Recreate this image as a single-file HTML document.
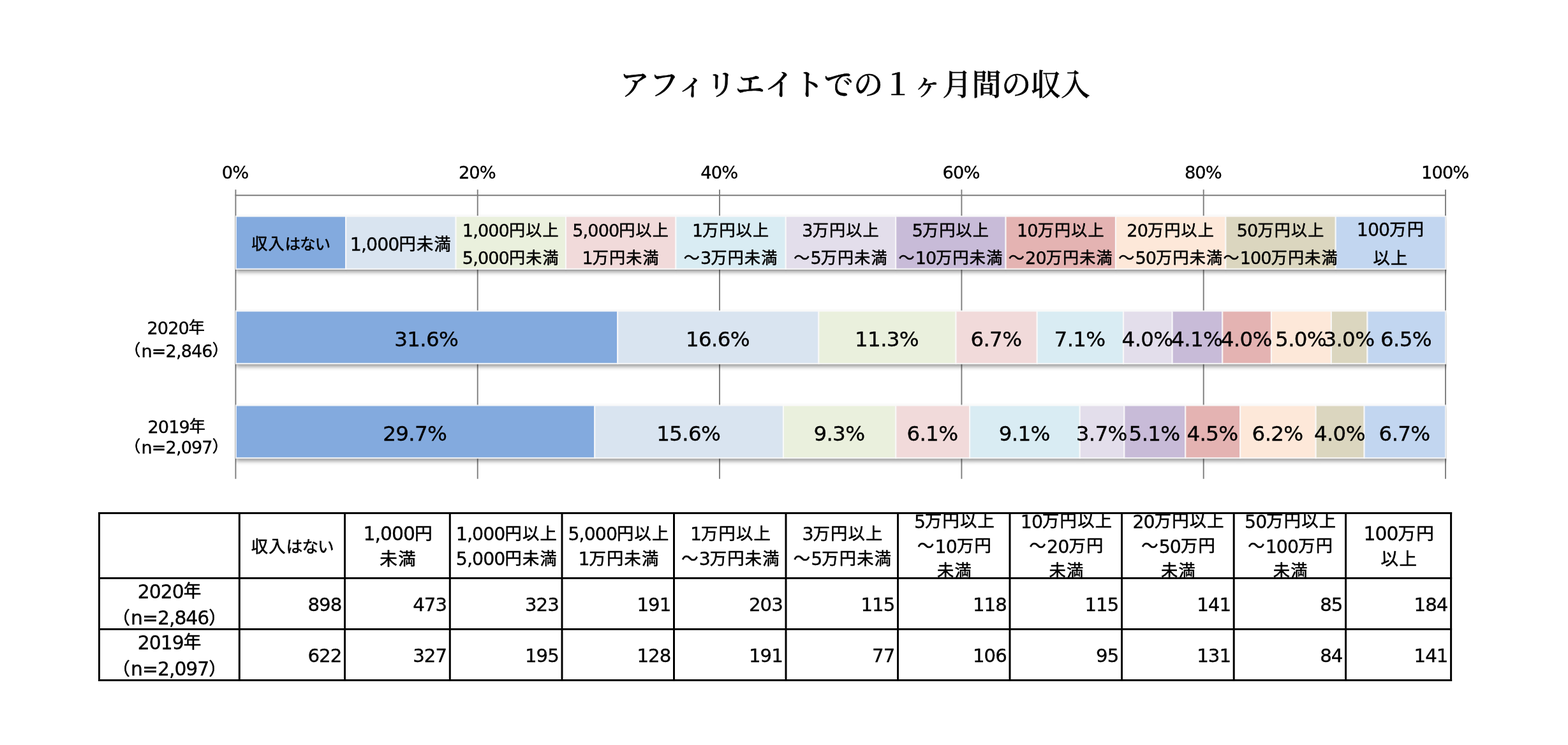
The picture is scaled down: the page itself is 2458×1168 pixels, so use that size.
<!DOCTYPE html>
<html lang="ja">
<head>
<meta charset="utf-8">
<title>アフィリエイトでの１ヶ月間の収入</title>
<style>
html,body{margin:0;padding:0;background:#fff;}
body{width:2458px;height:1168px;overflow:hidden;position:relative;}
svg{position:absolute;left:0;top:0;display:block;}
text{font-family:"DejaVu Sans","Noto Sans CJK JP",sans-serif;fill:#000;stroke:#000;stroke-width:0.35px;stroke-linejoin:round;}
.l{letter-spacing:var(--ll,-0.033em);}
.c{font-family:"Noto Sans CJK JP","DejaVu Sans",sans-serif;font-size:0.926em;letter-spacing:0.047em;stroke-width:0.6px;}
.k{font-family:"Noto Sans CJK JP","DejaVu Sans",sans-serif;font-size:0.9em;letter-spacing:-0.037em;stroke-width:0.6px;}
.t{font-family:"Noto Serif CJK JP","Noto Serif CJK SC","Liberation Serif",serif;font-weight:500;stroke-width:0.5px;}
.m{text-anchor:middle;}
.e{text-anchor:end;}
</style>
</head>
<body>
<svg width="2458" height="1168" viewBox="0 0 2458 1168">
<defs><filter id="sh" filterUnits="userSpaceOnUse" x="300" y="300" width="2000" height="460"><feGaussianBlur in="SourceAlpha" stdDeviation="3.0"/><feOffset dx="0.8" dy="3.8"/><feComponentTransfer result="s1"><feFuncA type="linear" slope="0.4"/></feComponentTransfer><feGaussianBlur in="SourceAlpha" stdDeviation="0.6"/><feOffset dx="0" dy="1.1"/><feComponentTransfer result="s2"><feFuncA type="linear" slope="0.22"/></feComponentTransfer><feMerge><feMergeNode in="s1"/><feMergeNode in="s2"/><feMergeNode in="SourceGraphic"/></feMerge></filter></defs>
<rect width="2458" height="1168" fill="#fff"/>
<text class="t m" x="1340.3" y="148.8" font-size="46.4">アフィリエイトでの１ヶ月間の収入</text>
<g stroke="#7c7c7c" stroke-width="1.9" fill="none">
<line x1="368.5" y1="306.3" x2="2266.9" y2="306.3"/>
<line x1="369.4" y1="297.2" x2="369.4" y2="750.8"/>
<line x1="748.7" y1="297.2" x2="748.7" y2="750.8"/>
<line x1="1128.0" y1="297.2" x2="1128.0" y2="750.8"/>
<line x1="1507.4" y1="297.2" x2="1507.4" y2="750.8"/>
<line x1="1886.7" y1="297.2" x2="1886.7" y2="750.8"/>
<line x1="2266.0" y1="297.2" x2="2266.0" y2="750.8"/>
</g>
<g font-size="27.3">
<text class="m" x="368.6" y="280.4"><tspan class="l">0%</tspan></text>
<text class="m" x="747.9" y="280.4"><tspan class="l">20%</tspan></text>
<text class="m" x="1127.2" y="280.4"><tspan class="l">40%</tspan></text>
<text class="m" x="1506.6" y="280.4"><tspan class="l">60%</tspan></text>
<text class="m" x="1885.9" y="280.4"><tspan class="l">80%</tspan></text>
<text class="m" x="2265.2" y="280.4"><tspan class="l">100%</tspan></text>
</g>
<clipPath id="pc"><rect x="368.9" y="300" width="1899.1" height="452"/></clipPath>
<g clip-path="url(#pc)"><g filter="url(#sh)" stroke="#fafafa" stroke-opacity="0.82" stroke-width="2.2">
<rect x="369.8" y="339.1" width="172.4" height="82.6" fill="#83AADE"/>
<rect x="542.2" y="339.1" width="172.4" height="82.6" fill="#D9E4F0"/>
<rect x="714.6" y="339.1" width="172.4" height="82.6" fill="#EAF0DD"/>
<rect x="887.0" y="339.1" width="172.4" height="82.6" fill="#F1DADA"/>
<rect x="1059.4" y="339.1" width="172.4" height="82.6" fill="#D9ECF3"/>
<rect x="1231.8" y="339.1" width="172.4" height="82.6" fill="#E3DEEB"/>
<rect x="1404.2" y="339.1" width="172.4" height="82.6" fill="#C8BBD8"/>
<rect x="1576.6" y="339.1" width="172.4" height="82.6" fill="#E4B3B2"/>
<rect x="1749.0" y="339.1" width="172.4" height="82.6" fill="#FDE8D9"/>
<rect x="1921.4" y="339.1" width="172.4" height="82.6" fill="#DBD6BF"/>
<rect x="2093.8" y="339.1" width="172.4" height="82.6" fill="#C2D6F0"/>
</g></g>
<g font-size="27.1">
<text class="m" x="455.7" y="392.0"><tspan class="c" dy="-1.4">収入</tspan><tspan class="k">はない</tspan></text>
<text class="m" x="628.4" y="393.2" font-size="28.4"><tspan class="l">1,000</tspan><tspan class="c" dy="-1.4">円未満</tspan></text>
<text class="m" x="800.8" y="371.0"><tspan class="l">1,000</tspan><tspan class="c" dy="-1.4">円以上</tspan></text>
<text class="m" x="800.8" y="414.0"><tspan class="l">5,000</tspan><tspan class="c" dy="-1.4">円未満</tspan></text>
<text class="m" x="973.2" y="371.0"><tspan class="l">5,000</tspan><tspan class="c" dy="-1.4">円以上</tspan></text>
<text class="m" x="973.2" y="414.0"><tspan class="l">1</tspan><tspan class="c" dy="-1.4">万円未満</tspan></text>
<text class="m" x="1145.6" y="371.0"><tspan class="l">1</tspan><tspan class="c" dy="-1.4">万円以上</tspan></text>
<text class="m" x="1145.6" y="414.0"><tspan class="c" dy="-1.4">～</tspan><tspan class="l" dy="1.4">3</tspan><tspan class="c" dy="-1.4">万円未満</tspan></text>
<text class="m" x="1318.0" y="371.0"><tspan class="l">3</tspan><tspan class="c" dy="-1.4">万円以上</tspan></text>
<text class="m" x="1318.0" y="414.0"><tspan class="c" dy="-1.4">～</tspan><tspan class="l" dy="1.4">5</tspan><tspan class="c" dy="-1.4">万円未満</tspan></text>
<text class="m" x="1490.4" y="371.0"><tspan class="l">5</tspan><tspan class="c" dy="-1.4">万円以上</tspan></text>
<text class="m" x="1490.4" y="414.0"><tspan class="c" dy="-1.4">～</tspan><tspan class="l" dy="1.4">10</tspan><tspan class="c" dy="-1.4">万円未満</tspan></text>
<text class="m" x="1662.8" y="371.0"><tspan class="l">10</tspan><tspan class="c" dy="-1.4">万円以上</tspan></text>
<text class="m" x="1662.8" y="414.0"><tspan class="c" dy="-1.4">～</tspan><tspan class="l" dy="1.4">20</tspan><tspan class="c" dy="-1.4">万円未満</tspan></text>
<text class="m" x="1835.2" y="371.0"><tspan class="l">20</tspan><tspan class="c" dy="-1.4">万円以上</tspan></text>
<text class="m" x="1835.2" y="414.0"><tspan class="c" dy="-1.4">～</tspan><tspan class="l" dy="1.4">50</tspan><tspan class="c" dy="-1.4">万円未満</tspan></text>
<text class="m" x="2007.6" y="371.0"><tspan class="l">50</tspan><tspan class="c" dy="-1.4">万円以上</tspan></text>
<text class="m" x="2007.6" y="414.0"><tspan class="c" dy="-1.4">～</tspan><tspan class="l" dy="1.4">100</tspan><tspan class="c" dy="-1.4">万円未満</tspan></text>
<text class="m" x="2180.0" y="370.0" font-size="28.4"><tspan class="l">100</tspan><tspan class="c" dy="-1.4">万円</tspan></text>
<text class="m" x="2180.0" y="415.6" font-size="28.4"><tspan class="c" dy="-1.4">以上</tspan></text>
</g>
<g clip-path="url(#pc)"><g filter="url(#sh)" stroke="#fafafa" stroke-opacity="0.82" stroke-width="2.2">
<rect x="369.8" y="487.6" width="598.4" height="82.4" fill="#83AADE"/>
<rect x="968.2" y="487.6" width="315.2" height="82.4" fill="#D9E4F0"/>
<rect x="1283.3" y="487.6" width="215.2" height="82.4" fill="#EAF0DD"/>
<rect x="1498.5" y="487.6" width="127.3" height="82.4" fill="#F1DADA"/>
<rect x="1625.8" y="487.6" width="135.3" height="82.4" fill="#D9ECF3"/>
<rect x="1761.1" y="487.6" width="76.6" height="82.4" fill="#E3DEEB"/>
<rect x="1837.7" y="487.6" width="78.6" height="82.4" fill="#C8BBD8"/>
<rect x="1916.3" y="487.6" width="76.6" height="82.4" fill="#E4B3B2"/>
<rect x="1993.0" y="487.6" width="94.0" height="82.4" fill="#FDE8D9"/>
<rect x="2086.9" y="487.6" width="56.6" height="82.4" fill="#DBD6BF"/>
<rect x="2143.5" y="487.6" width="122.6" height="82.4" fill="#C2D6F0"/>
</g></g>
<g font-size="32.5" style="--ll:-0.02em">
<text class="m" x="668.2" y="542.5"><tspan class="l">31.6%</tspan></text>
<text class="m" x="1124.9" y="542.5"><tspan class="l">16.6%</tspan></text>
<text class="m" x="1390.1" y="542.5"><tspan class="l">11.3%</tspan></text>
<text class="m" x="1561.4" y="542.5"><tspan class="l">6.7%</tspan></text>
<text class="m" x="1692.6" y="542.5"><tspan class="l">7.1%</tspan></text>
<text class="m" x="1798.6" y="542.5"><tspan class="l">4.0%</tspan></text>
<text class="m" x="1876.2" y="542.5"><tspan class="l">4.1%</tspan></text>
<text class="m" x="1953.8" y="542.5"><tspan class="l">4.0%</tspan></text>
<text class="m" x="2039.1" y="542.5"><tspan class="l">5.0%</tspan></text>
<text class="m" x="2114.4" y="542.5"><tspan class="l">3.0%</tspan></text>
<text class="m" x="2204.0" y="542.5"><tspan class="l">6.5%</tspan></text>
</g>
<g clip-path="url(#pc)"><g filter="url(#sh)" stroke="#fafafa" stroke-opacity="0.82" stroke-width="2.2">
<rect x="369.8" y="635.6" width="562.5" height="82.4" fill="#83AADE"/>
<rect x="932.3" y="635.6" width="295.7" height="82.4" fill="#D9E4F0"/>
<rect x="1228.0" y="635.6" width="176.3" height="82.4" fill="#EAF0DD"/>
<rect x="1404.3" y="635.6" width="115.8" height="82.4" fill="#F1DADA"/>
<rect x="1520.1" y="635.6" width="172.7" height="82.4" fill="#D9ECF3"/>
<rect x="1692.8" y="635.6" width="69.6" height="82.4" fill="#E3DEEB"/>
<rect x="1762.4" y="635.6" width="95.9" height="82.4" fill="#C8BBD8"/>
<rect x="1858.3" y="635.6" width="85.9" height="82.4" fill="#E4B3B2"/>
<rect x="1944.2" y="635.6" width="118.5" height="82.4" fill="#FDE8D9"/>
<rect x="2062.7" y="635.6" width="76.0" height="82.4" fill="#DBD6BF"/>
<rect x="2138.6" y="635.6" width="127.5" height="82.4" fill="#C2D6F0"/>
</g></g>
<g font-size="32.5" style="--ll:-0.02em">
<text class="m" x="650.2" y="690.5"><tspan class="l">29.7%</tspan></text>
<text class="m" x="1079.3" y="690.5"><tspan class="l">15.6%</tspan></text>
<text class="m" x="1315.4" y="690.5"><tspan class="l">9.3%</tspan></text>
<text class="m" x="1461.4" y="690.5"><tspan class="l">6.1%</tspan></text>
<text class="m" x="1605.7" y="690.5"><tspan class="l">9.1%</tspan></text>
<text class="m" x="1726.8" y="690.5"><tspan class="l">3.7%</tspan></text>
<text class="m" x="1809.6" y="690.5"><tspan class="l">5.1%</tspan></text>
<text class="m" x="1900.5" y="690.5"><tspan class="l">4.5%</tspan></text>
<text class="m" x="2002.6" y="690.5"><tspan class="l">6.2%</tspan></text>
<text class="m" x="2099.9" y="690.5"><tspan class="l">4.0%</tspan></text>
<text class="m" x="2201.6" y="690.5"><tspan class="l">6.7%</tspan></text>
</g>
<g font-size="27.1">
<text class="m" x="276.3" y="523.8"><tspan class="l">2020</tspan><tspan class="c" dy="-1.4">年</tspan></text>
<text class="m" x="277.1" y="559.8"><tspan class="c" dy="-1.4">（</tspan><tspan class="l" dy="1.4">n=2,846</tspan><tspan class="c" dy="-1.4">）</tspan></text>
<text class="m" x="277.3" y="678.8"><tspan class="l">2019</tspan><tspan class="c" dy="-1.4">年</tspan></text>
<text class="m" x="277.1" y="710.6"><tspan class="c" dy="-1.4">（</tspan><tspan class="l" dy="1.4">n=2,097</tspan><tspan class="c" dy="-1.4">）</tspan></text>
</g>
<clipPath id="hc"><rect x="155.5" y="804.4" width="2119.1" height="102.10000000000002"/></clipPath>
<g clip-path="url(#hc)" font-size="28.4">
<text class="m" x="458.2" y="867.7"><tspan class="c" dy="-1.4">収入</tspan><tspan class="k">はない</tspan></text>
<text class="m" x="624.2" y="847.0" font-size="29.8"><tspan class="l">1,000</tspan><tspan class="c" dy="-1.4">円</tspan></text>
<text class="m" x="624.2" y="887.2" font-size="29.8"><tspan class="c" dy="-1.4">未満</tspan></text>
<text class="m" x="794.4" y="847.1"><tspan class="l">1,000</tspan><tspan class="c" dy="-1.4">円以上</tspan></text>
<text class="m" x="794.4" y="886.2"><tspan class="l">5,000</tspan><tspan class="c" dy="-1.4">円未満</tspan></text>
<text class="m" x="970.0" y="847.1"><tspan class="l">5,000</tspan><tspan class="c" dy="-1.4">円以上</tspan></text>
<text class="m" x="970.0" y="886.2"><tspan class="l">1</tspan><tspan class="c" dy="-1.4">万円未満</tspan></text>
<text class="m" x="1145.5" y="847.1"><tspan class="l">1</tspan><tspan class="c" dy="-1.4">万円以上</tspan></text>
<text class="m" x="1145.5" y="886.2"><tspan class="c" dy="-1.4">～</tspan><tspan class="l" dy="1.4">3</tspan><tspan class="c" dy="-1.4">万円未満</tspan></text>
<text class="m" x="1321.0" y="847.1"><tspan class="l">3</tspan><tspan class="c" dy="-1.4">万円以上</tspan></text>
<text class="m" x="1321.0" y="886.2"><tspan class="c" dy="-1.4">～</tspan><tspan class="l" dy="1.4">5</tspan><tspan class="c" dy="-1.4">万円未満</tspan></text>
<text class="m" x="1496.5" y="827.6"><tspan class="l">5</tspan><tspan class="c" dy="-1.4">万円以上</tspan></text>
<text class="m" x="1496.5" y="866.7"><tspan class="c" dy="-1.4">～</tspan><tspan class="l" dy="1.4">10</tspan><tspan class="c" dy="-1.4">万円</tspan></text>
<text class="m" x="1496.5" y="905.8"><tspan class="c" dy="-1.4">未満</tspan></text>
<text class="m" x="1672.0" y="827.6"><tspan class="l">10</tspan><tspan class="c" dy="-1.4">万円以上</tspan></text>
<text class="m" x="1672.0" y="866.7"><tspan class="c" dy="-1.4">～</tspan><tspan class="l" dy="1.4">20</tspan><tspan class="c" dy="-1.4">万円</tspan></text>
<text class="m" x="1672.0" y="905.8"><tspan class="c" dy="-1.4">未満</tspan></text>
<text class="m" x="1847.6" y="827.6"><tspan class="l">20</tspan><tspan class="c" dy="-1.4">万円以上</tspan></text>
<text class="m" x="1847.6" y="866.7"><tspan class="c" dy="-1.4">～</tspan><tspan class="l" dy="1.4">50</tspan><tspan class="c" dy="-1.4">万円</tspan></text>
<text class="m" x="1847.6" y="905.8"><tspan class="c" dy="-1.4">未満</tspan></text>
<text class="m" x="2023.2" y="827.6"><tspan class="l">50</tspan><tspan class="c" dy="-1.4">万円以上</tspan></text>
<text class="m" x="2023.2" y="866.7"><tspan class="c" dy="-1.4">～</tspan><tspan class="l" dy="1.4">100</tspan><tspan class="c" dy="-1.4">万円</tspan></text>
<text class="m" x="2023.2" y="905.8"><tspan class="c" dy="-1.4">未満</tspan></text>
<text class="m" x="2193.4" y="847.0" font-size="29.8"><tspan class="l">100</tspan><tspan class="c" dy="-1.4">万円</tspan></text>
<text class="m" x="2193.4" y="887.2" font-size="29.8"><tspan class="c" dy="-1.4">以上</tspan></text>
</g>
<g font-size="29.8">
<text class="m" x="266.2" y="937.8"><tspan class="l">2020</tspan><tspan class="c" dy="-1.4">年</tspan></text>
<text class="m" x="266.2" y="979.0"><tspan class="c" dy="-1.4">（</tspan><tspan class="l" dy="1.4">n=2,846</tspan><tspan class="c" dy="-1.4">）</tspan></text>
<text class="e" x="535.3" y="958.4" font-size="29.2"><tspan class="l">898</tspan></text>
<text class="e" x="700.1" y="958.4" font-size="29.2"><tspan class="l">473</tspan></text>
<text class="e" x="875.8" y="958.4" font-size="29.2"><tspan class="l">323</tspan></text>
<text class="e" x="1051.3" y="958.4" font-size="29.2"><tspan class="l">191</tspan></text>
<text class="e" x="1226.8" y="958.4" font-size="29.2"><tspan class="l">203</tspan></text>
<text class="e" x="1402.3" y="958.4" font-size="29.2"><tspan class="l">115</tspan></text>
<text class="e" x="1577.8" y="958.4" font-size="29.2"><tspan class="l">118</tspan></text>
<text class="e" x="1753.3" y="958.4" font-size="29.2"><tspan class="l">115</tspan></text>
<text class="e" x="1929.0" y="958.4" font-size="29.2"><tspan class="l">141</tspan></text>
<text class="e" x="2104.4" y="958.4" font-size="29.2"><tspan class="l">85</tspan></text>
<text class="e" x="2269.4" y="958.4" font-size="29.2"><tspan class="l">184</tspan></text>
<text class="m" x="266.2" y="1017.8"><tspan class="l">2019</tspan><tspan class="c" dy="-1.4">年</tspan></text>
<text class="m" x="266.2" y="1059.0"><tspan class="c" dy="-1.4">（</tspan><tspan class="l" dy="1.4">n=2,097</tspan><tspan class="c" dy="-1.4">）</tspan></text>
<text class="e" x="535.3" y="1038.4" font-size="29.2"><tspan class="l">622</tspan></text>
<text class="e" x="700.1" y="1038.4" font-size="29.2"><tspan class="l">327</tspan></text>
<text class="e" x="875.8" y="1038.4" font-size="29.2"><tspan class="l">195</tspan></text>
<text class="e" x="1051.3" y="1038.4" font-size="29.2"><tspan class="l">128</tspan></text>
<text class="e" x="1226.8" y="1038.4" font-size="29.2"><tspan class="l">191</tspan></text>
<text class="e" x="1402.3" y="1038.4" font-size="29.2"><tspan class="l">77</tspan></text>
<text class="e" x="1577.8" y="1038.4" font-size="29.2"><tspan class="l">106</tspan></text>
<text class="e" x="1753.3" y="1038.4" font-size="29.2"><tspan class="l">95</tspan></text>
<text class="e" x="1929.0" y="1038.4" font-size="29.2"><tspan class="l">131</tspan></text>
<text class="e" x="2104.4" y="1038.4" font-size="29.2"><tspan class="l">84</tspan></text>
<text class="e" x="2269.4" y="1038.4" font-size="29.2"><tspan class="l">141</tspan></text>
</g>
<g stroke="#000" stroke-width="3" fill="none">
<line x1="155.5" y1="802.9" x2="155.5" y2="1068.0"/>
<line x1="375.3" y1="802.9" x2="375.3" y2="1068.0"/>
<line x1="540.5" y1="802.9" x2="540.5" y2="1068.0"/>
<line x1="705.3" y1="802.9" x2="705.3" y2="1068.0"/>
<line x1="881.0" y1="802.9" x2="881.0" y2="1068.0"/>
<line x1="1056.5" y1="802.9" x2="1056.5" y2="1068.0"/>
<line x1="1232.0" y1="802.9" x2="1232.0" y2="1068.0"/>
<line x1="1407.5" y1="802.9" x2="1407.5" y2="1068.0"/>
<line x1="1583.0" y1="802.9" x2="1583.0" y2="1068.0"/>
<line x1="1758.5" y1="802.9" x2="1758.5" y2="1068.0"/>
<line x1="1934.2" y1="802.9" x2="1934.2" y2="1068.0"/>
<line x1="2109.6" y1="802.9" x2="2109.6" y2="1068.0"/>
<line x1="2274.6" y1="802.9" x2="2274.6" y2="1068.0"/>
<line x1="154.0" y1="804.4" x2="2276.1" y2="804.4"/>
<line x1="154.0" y1="906.5" x2="2276.1" y2="906.5"/>
<line x1="154.0" y1="986.5" x2="2276.1" y2="986.5"/>
<line x1="154.0" y1="1066.5" x2="2276.1" y2="1066.5"/>
</g>
</svg>
</body>
</html>
